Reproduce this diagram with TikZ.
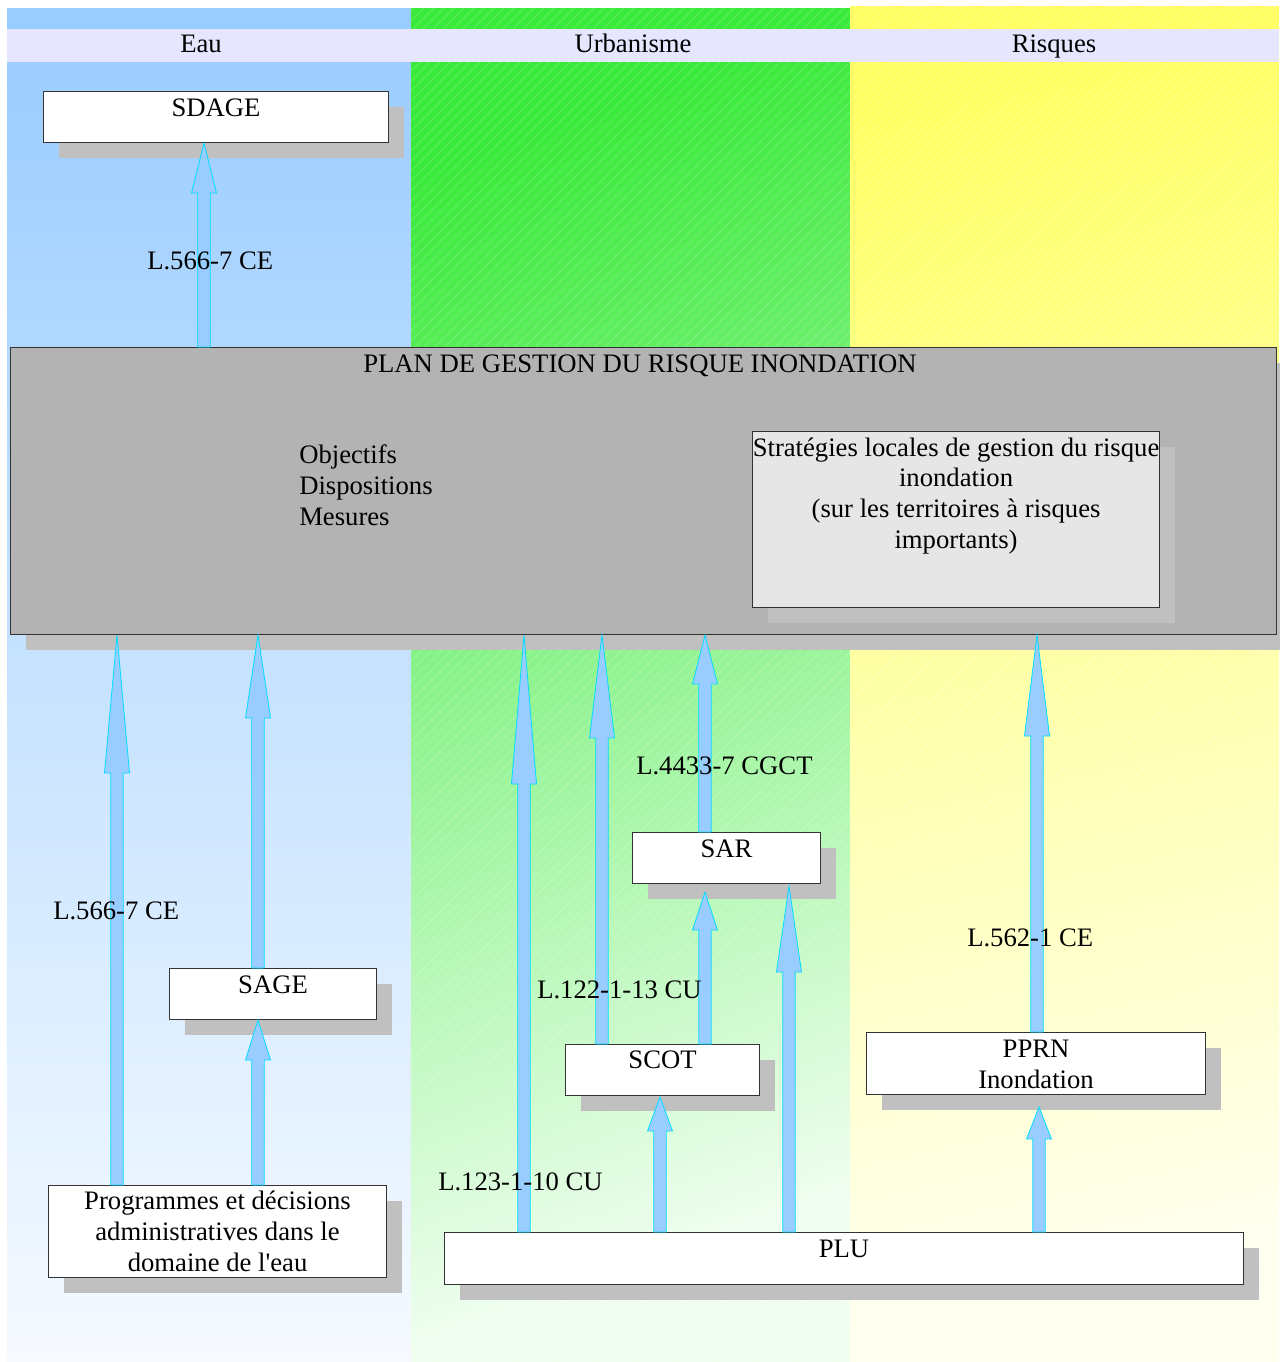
\documentclass[tikz,border=0pt]{standalone}
\usepackage{fontspec}
\setmainfont{Liberation Serif}[Ligatures=TeXOff]
\usetikzlibrary{calc,shadows}
\definecolor{eaublue}{RGB}{153,204,255}
\definecolor{eauend}{RGB}{246,250,255}
\definecolor{urbgreen}{RGB}{58,234,58}
\definecolor{urbend}{RGB}{240,254,240}
\definecolor{riskyellow}{RGB}{255,255,100}
\definecolor{riskend}{RGB}{255,255,240}
\definecolor{headlav}{RGB}{230,230,255}
\definecolor{shadowgray}{RGB}{192,192,192}
\definecolor{pgrigray}{RGB}{179,179,179}
\definecolor{slgray}{RGB}{230,230,230}
\definecolor{arrowfill}{RGB}{153,204,255}
\definecolor{arrowline}{RGB}{0,221,255}
\newcommand\mybox[6]{\node[#6, anchor=north west, inner sep=0pt, minimum width={(#4-#2)*0.75pt}, minimum height={(#5-#3)*0.75pt}] (#1) at (#2,#3) {};}
\newcommand\barrow[5]{%
 \draw[blockarrow] let \p1=(#2), \p2=(#3) in
 ({#1*0.75pt-4.65pt},\y1) -- ({#1*0.75pt-4.65pt},{\y2-(#4+#5)*0.75pt}) -- ({#1*0.75pt-9.4pt},{\y2-(#4+#5)*0.75pt}) -- ({#1*0.75pt},{\y2-#5*0.75pt}) -- ({#1*0.75pt+9.4pt},{\y2-(#4+#5)*0.75pt}) -- ({#1*0.75pt+4.65pt},{\y2-(#4+#5)*0.75pt}) -- ({#1*0.75pt+4.65pt},\y1) -- cycle;}
\begin{document}
\begin{tikzpicture}[x=0.75pt,y=-0.75pt,
  font=\fontsize{20pt}{23pt}\selectfont,
  box/.style={draw=black!80, fill=white, line width=0.8pt,
    drop shadow={shadow xshift=11.25pt, shadow yshift=-11.25pt, fill=shadowgray, draw=none, opacity=1}},
  txt/.style={anchor=base, inner sep=0pt, align=center},
  lbl/.style={anchor=base west, inner sep=0pt},
  hatch/.style={draw=white, line width=0.6pt, draw opacity=0.18},
  blockarrow/.style={fill=arrowfill, draw=arrowline, line width=0.6pt, line join=miter}]
\useasboundingbox (0,0) rectangle (1279,1362);
\fill[white] (0,0) rectangle (1279,1362);
% columns
\shade[top color=eaublue, bottom color=eauend] (7,9) rectangle (411,1362);
\shade[top color=urbgreen, middle color=urbgreen!42!urbend, bottom color=urbend, shading angle=20] (411,9) rectangle (850,1362);
\shade[top color=riskyellow, middle color=riskyellow!42!riskend, bottom color=riskend, shading angle=12] (850,7) rectangle (1279,1362);
\begin{scope}
  \clip (411,7) rectangle (1279,1362);
  \foreach \i in {-960,-950,...,1280} {\draw[hatch] (\i,1362) -- ++(1400,-1400);}
\end{scope}
% header
\fill[headlav] (7,29) rectangle (1279,62);
\node[txt] (h-eau) at (201,53) {Eau};
\node[txt] (h-urb) at (633,53) {Urbanisme};
\node[txt] (h-ris) at (1054,53) {Risques};
% boxes
\mybox{sdage}{43}{91}{388}{142}{box}
\mybox{pgri}{10}{347}{1276}{634}{box, fill=pgrigray}
\mybox{slgri}{752}{431}{1159}{607}{box, fill=slgray}
\mybox{sage}{169}{968}{376}{1019}{box}
\mybox{prog}{48}{1185}{386}{1277}{box}
\mybox{sar}{632}{832}{820}{883}{box}
\mybox{scot}{565}{1044}{759}{1095}{box}
\mybox{pprn}{866}{1032}{1205}{1094}{box}
\mybox{plu}{444}{1232}{1243}{1284}{box}
% box texts (base anchor = baseline of the last line)
\node[txt] (sdage-t) at ($(sdage.north)+(0,26)$) {SDAGE};
\node[txt] (pgri-t) at (640,372) {PLAN DE GESTION DU RISQUE INONDATION};
\node[anchor=base west, inner sep=0pt, align=left] (obj) at (299,525) {Objectifs\\Dispositions\\Mesures};
\node[txt] (slgri-t) at ($(slgri.north)+(0,117)$) {Stratégies locales de gestion du risque\\inondation\\(sur les territoires à risques\\importants)};
\node[txt] (sage-t) at ($(sage.north)+(0,25)$) {SAGE};
\node[txt] (prog-t) at ($(prog.north)+(0,86)$) {Programmes et décisions\\administratives dans le\\domaine de l'eau};
\node[txt] (sar-t) at ($(sar.north)+(0,25)$) {SAR};
\node[txt] (scot-t) at ($(scot.north)+(0,24)$) {SCOT};
\node[txt] (pprn-t) at ($(pprn.north)+(0,56)$) {PPRN\\Inondation};
\node[txt] (plu-t) at ($(plu.north)+(0,25)$) {PLU};
% arrows
\barrow{204}{pgri.north}{sdage.south}{50}{0}
\barrow{117}{prog.north}{pgri.south}{138}{0}
\barrow{258}{sage.north}{pgri.south}{83}{0}
\barrow{258}{prog.north}{sage.south}{40}{0}
\barrow{524}{plu.north}{pgri.south}{149}{0}
\barrow{602}{scot.north}{pgri.south}{103}{0}
\barrow{705}{sar.north}{pgri.south}{49}{0}
\barrow{705}{scot.north}{sar.south}{38}{8}
\barrow{789}{plu.north}{sar.south}{86}{2}
\barrow{660}{plu.north}{scot.south}{34}{1}
\barrow{1037}{pprn.north}{pgri.south}{101}{0}
\barrow{1039}{plu.north}{pprn.south}{32}{12}
% labels
\node[lbl] (l1) at (147,270) {L.566-7 CE};
\node[lbl] (l2) at (53,919) {L.566-7 CE};
\node[lbl] (l3) at (636,774) {L.4433-7 CGCT};
\node[lbl] (l4) at (537,998) {L.122-1-13 CU};
\node[lbl] (l5) at (438,1190) {L.123-1-10 CU};
\node[lbl] (l6) at (967,946) {L.562-1 CE};
\end{tikzpicture}
\end{document}
